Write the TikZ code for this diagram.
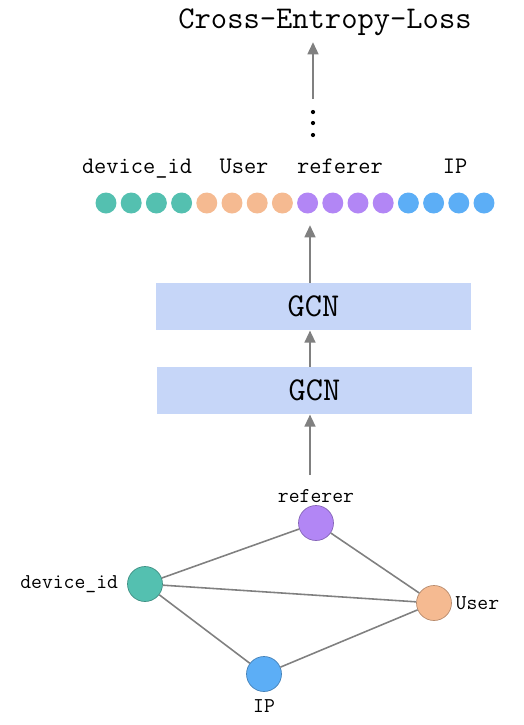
\documentclass[tikz,border=0pt]{standalone}
\usepackage{fontspec}
\usetikzlibrary{arrows.meta,positioning}
\definecolor{devcol}{RGB}{84,192,176}
\definecolor{usrcol}{RGB}{245,186,145}
\definecolor{refcol}{RGB}{178,134,245}
\definecolor{ipcol}{RGB}{92,174,246}
\definecolor{gcncol}{RGB}{198,214,248}
\definecolor{edgecol}{RGB}{128,128,128}
\tikzset{
    flow/.style={draw=edgecol, line width=1.6pt, -{Triangle[length=7pt,width=6pt]}},
    emb/.style={circle, inner sep=0pt, minimum size=0.42cm},
    vert/.style={circle, draw=#1!75!black, fill=#1, line width=0.4pt, inner sep=0pt, minimum size=0.7cm},
    link/.style={draw=edgecol, line width=0.9pt},
    vlabel/.style={font=\fontsize{12}{14}\selectfont\ttfamily, inner sep=1pt},
    rowlabel/.style={font=\fontsize{13.5}{16}\selectfont\ttfamily, anchor=base}
}

\begin{document}
\begin{tikzpicture}[x=0.02cm, y=-0.02cm]
    \useasboundingbox (0,0) rectangle (524,725);
    % loss on top
    \node[font=\fontsize{18}{20}\selectfont\ttfamily, anchor=base] (loss) at (325,28) {Cross-Entropy-Loss};
    \coordinate (losstip) at (313,42);
    \coordinate (lossfoot) at (313,99);
    \draw[flow] (lossfoot) -- (losstip);
    \foreach \y in {112,123,135} \fill (313,\y) circle (1.2pt);
    % embedding row
    \node[rowlabel] (ldev) at (137,173) {device\_id};
    \node[rowlabel] (lusr) at (244,173) {User};
    \node[rowlabel] (lref) at (340,173) {referer};
    \node[rowlabel] (lip)  at (455,173) {IP};
    \foreach \c [count=\i from 0] in {devcol,devcol,devcol,devcol,usrcol,usrcol,usrcol,usrcol,refcol,refcol,refcol,refcol,ipcol,ipcol,ipcol,ipcol}
        \node[emb, fill=\c] (e\i) at ({106+25.2*\i},203) {};
    % GCN layers
    \node[fill=gcncol, minimum width=6.3cm, minimum height=0.94cm, font=\fontsize{19}{22}\selectfont\ttfamily] (gcn2) at (313.5,306.5) {GCN};
    \node[fill=gcncol, minimum width=6.3cm, minimum height=0.94cm, font=\fontsize{19}{22}\selectfont\ttfamily] (gcn1) at (314.5,390.5) {GCN};
    \coordinate (embin) at (310,225);
    \coordinate (graphout) at (310,475);
    \draw[flow] (gcn2.north -| embin) -- (embin);
    \draw[flow] (gcn1.north -| embin) -- (gcn2.south -| embin);
    \draw[flow] (graphout) -- (gcn1.south -| graphout);
    % input graph
    \node[vert=devcol, label={[vlabel, label distance=4pt]left:device\_id}] (dev) at (145,584) {};
    \node[vert=refcol, label={[vlabel]above:referer}] (ref) at (316,523) {};
    \node[vert=usrcol, label={[vlabel, label distance=1pt]right:User}] (usr) at (434,603) {};
    \node[vert=ipcol, label={[vlabel, label distance=3pt]below:IP}] (ip) at (264,674) {};
    \draw[link] (dev) -- (ref);
    \draw[link] (dev) -- (usr);
    \draw[link] (dev) -- (ip);
    \draw[link] (ref) -- (usr);
    \draw[link] (ip) -- (usr);
\end{tikzpicture}
\end{document}
